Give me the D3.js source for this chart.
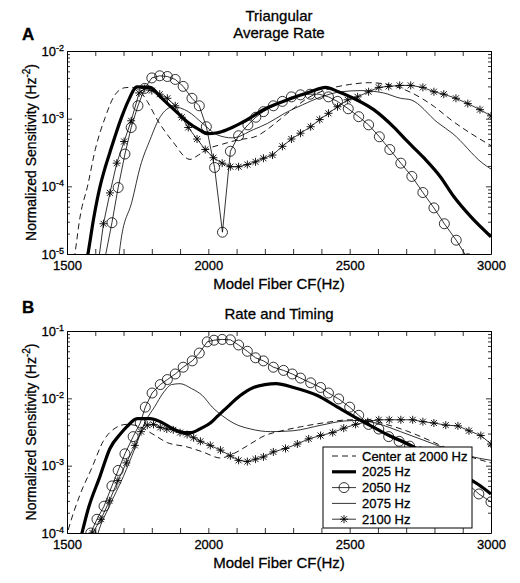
<!DOCTYPE html>
<html><head><meta charset="utf-8">
<script src="https://cdn.jsdelivr.net/npm/d3@7/dist/d3.min.js"></script>
<style>
body{margin:0;background:#fff}
text{font-family:"Liberation Sans",Arial,Helvetica,sans-serif;fill:#000;stroke:#000;stroke-width:0.3px}
</style>
</head><body>
<svg id="chart" width="520" height="583"></svg>
<script>
// ---------- DATA ----------
const seriesNames = ["Center at 2000 Hz", "2025 Hz", "2050 Hz", "2075 Hz", "2100 Hz"];
const xTickValues = [1500,1600,1700,1800,1900,2000,2100,2200,2300,2400,2500,2600,2700,2800,2900,3000];
const xTickLabels = [1500, 2000, 2500, 3000];
const panelLetters = ["A", "B"];
const panelTitlesA = ["Triangular", "Average Rate"];
const panelTitlesB = ["Rate and Timing"];
const xAxisTitle = "Model Fiber CF(Hz)";
const yAxisTitle = "Normalized Sensitivity (Hz";
const yDomainA = [1e-5, 1e-2];
const yDomainB = [1e-4, 1e-1];

// Panel A (Triangular, average rate): [CF Hz, sensitivity]
const aCenter2000 = [[1520,6e-6],[1528,1e-5],[1546,3.5e-5],[1574,1.06e-4],[1600,3.5e-4],[1635,1.04e-3],[1670,2.26e-3],[1706,2.87e-3],[1730,2.9e-3],[1760,2.5e-3],[1784,1.8e-3],[1819,9.7e-4],[1855,5.8e-4],[1883,4.1e-4],[1910,2.9e-4],[1935,2.5e-4],[1965,2.9e-4],[2000,3.6e-4],[2050,4.2e-4],[2100,4.8e-4],[2170,5.5e-4],[2210,7e-4],[2250,9.5e-4],[2300,1.4e-3],[2350,2.0e-3],[2420,2.7e-3],[2500,3.2e-3],[2570,3.4e-3],[2650,3.1e-3],[2720,2.4e-3],[2800,1.5e-3],[2860,9.5e-4],[2930,6e-4],[3000,4e-4]];
const a2025 = [[1560,5e-6],[1574,1e-5],[1595,3.5e-5],[1617,1e-4],[1635,1.9e-4],[1652,3.2e-4],[1673,6e-4],[1694,1.07e-3],[1716,1.8e-3],[1748,2.95e-3],[1794,2.9e-3],[1830,2.1e-3],[1860,1.6e-3],[1890,1.23e-3],[1925,9e-4],[1972,6.7e-4],[1995,6e-4],[2032,6.2e-4],[2067,6.9e-4],[2124,9e-4],[2209,1.45e-3],[2280,1.9e-3],[2362,2.5e-3],[2415,2.9e-3],[2460,2.5e-3],[2503,2.1e-3],[2585,1.36e-3],[2656,7.5e-4],[2700,4.8e-4],[2762,2.65e-4],[2820,1.4e-4],[2869,7e-5],[2930,3.5e-5],[3000,1.8e-5]];
const a2050 = [[1630,7e-6],[1659,2.9e-5],[1681,9.6e-5],[1705,3.0e-4],[1727,7.4e-4],[1751,1.55e-3],[1775,2.8e-3],[1800,4.0e-3],[1828,4.3e-3],[1855,4.2e-3],[1883,3.8e-3],[1911,3.0e-3],[1942,2.0e-3],[1968,1.55e-3],[1993,7.6e-4],[2022,1.9e-4],[2050,2.1e-5],[2078,3.3e-4],[2107,5.6e-4],[2140,8.1e-4],[2168,1.05e-3],[2195,1.27e-3],[2230,1.55e-3],[2262,1.8e-3],[2294,2.1e-3],[2326,2.25e-3],[2360,2.3e-3],[2392,2.3e-3],[2425,2.1e-3],[2457,1.8e-3],[2495,1.4e-3],[2532,1.07e-3],[2567,8.1e-4],[2605,5.4e-4],[2642,3.5e-4],[2681,2.2e-4],[2720,1.4e-4],[2759,8.1e-5],[2798,4.8e-5],[2835,2.8e-5],[2877,1.6e-5],[2918,8.5e-6]];
const a2075 = [[1680,7e-6],[1691,1.6e-5],[1730,6e-5],[1759,1.95e-4],[1794,4.9e-4],[1830,1.07e-3],[1876,1.5e-3],[1929,1.27e-3],[1980,8.5e-4],[2030,5.8e-4],[2085,5.2e-4],[2160,6.9e-4],[2209,8.5e-4],[2270,1.2e-3],[2333,1.6e-3],[2400,2.1e-3],[2470,2.5e-3],[2540,2.6e-3],[2620,2.4e-3],[2680,2.0e-3],[2716,1.9e-3],[2812,8.7e-4],[2865,6e-4],[2970,2.2e-4],[3000,1.8e-4]];
const a2100 = [[1610,7e-6],[1629,2.8e-5],[1652,8e-5],[1676,2.2e-4],[1702,4.6e-4],[1727,9.3e-4],[1755,2.4e-3],[1775,2.8e-3],[1800,2.6e-3],[1828,2.3e-3],[1855,2.0e-3],[1883,1.55e-3],[1906,1.05e-3],[1929,7.4e-4],[1960,5.0e-4],[1989,3.5e-4],[2018,2.65e-4],[2049,2.2e-4],[2078,1.95e-4],[2107,1.95e-4],[2138,2.1e-4],[2167,2.3e-4],[2195,2.6e-4],[2227,2.9e-4],[2262,3.9e-4],[2294,5e-4],[2326,6.1e-4],[2362,7.6e-4],[2394,9.7e-4],[2425,1.2e-3],[2457,1.5e-3],[2493,1.9e-3],[2528,2.1e-3],[2567,2.5e-3],[2603,2.9e-3],[2638,3.0e-3],[2677,3.1e-3],[2716,3.1e-3],[2759,2.9e-3],[2798,2.5e-3],[2833,2.3e-3],[2876,2.0e-3],[2918,1.67e-3],[2961,1.36e-3],[3000,1.1e-3]];

// Panel B (Rate and timing)
const bCenter2000 = [[1495,8e-5],[1504,1.1e-4],[1546,3.7e-4],[1589,9.5e-4],[1628,2.3e-3],[1670,3.6e-3],[1710,4.1e-3],[1750,3.9e-3],[1800,3.0e-3],[1855,2.2e-3],[1925,1.9e-3],[1980,1.6e-3],[2043,1.3e-3],[2088,1.5e-3],[2140,2.0e-3],[2200,2.8e-3],[2260,3.3e-3],[2330,3.8e-3],[2420,4.4e-3],[2500,4.8e-3],[2560,4.8e-3],[2620,4.2e-3],[2700,3.3e-3],[2780,2.4e-3],[2860,1.7e-3],[2940,1.3e-3],[3000,1.1e-3]];
const b2025 = [[1540,6e-5],[1553,1e-4],[1574,2.2e-4],[1617,7e-4],[1652,1.8e-3],[1690,3.0e-3],[1712,3.8e-3],[1748,5e-3],[1794,5e-3],[1830,4.5e-3],[1876,3.5e-3],[1915,3.1e-3],[1940,3.1e-3],[1975,3.6e-3],[2007,4.3e-3],[2030,5.3e-3],[2067,7.4e-3],[2113,1.1e-2],[2160,1.45e-2],[2200,1.6e-2],[2240,1.65e-2],[2301,1.45e-2],[2386,1.1e-2],[2457,7.4e-3],[2528,5e-3],[2585,3.7e-3],[2640,2.8e-3],[2706,2.1e-3],[2780,1.4e-3],[2850,9e-4],[2920,6.5e-4],[2954,5.3e-4],[3000,3.8e-4]];
const b2050 = [[1560,6e-5],[1584,1e-4],[1606,1.6e-4],[1631,2.5e-4],[1659,5e-4],[1681,8.5e-4],[1705,1.5e-3],[1734,2.7e-3],[1759,4.3e-3],[1777,7.4e-3],[1801,1.2e-2],[1830,1.6e-2],[1855,1.9e-2],[1883,2.3e-2],[1911,2.9e-2],[1943,3.6e-2],[1968,4.7e-2],[1996,6.9e-2],[2020,7.3e-2],[2049,7.5e-2],[2078,7.4e-2],[2107,6.2e-2],[2138,5.0e-2],[2167,4.0e-2],[2195,3.6e-2],[2230,2.9e-2],[2266,2.6e-2],[2297,2.3e-2],[2326,2.0e-2],[2362,1.7e-2],[2397,1.45e-2],[2425,1.2e-2],[2461,9.8e-3],[2500,7.4e-3],[2532,5.6e-3],[2567,4.1e-3],[2603,3.5e-3],[2638,2.7e-3],[2675,2.3e-3],[2712,1.95e-3],[2750,1.6e-3],[2790,1.3e-3],[2830,1.05e-3],[2870,8e-4],[2915,5.5e-4],[2957,3.8e-4],[3000,2.9e-4]];
const b2075 = [[1600,7e-5],[1610,1e-4],[1650,2.5e-4],[1700,7e-4],[1740,1.8e-3],[1777,4.5e-3],[1810,7.5e-3],[1840,1.2e-2],[1870,1.6e-2],[1900,1.65e-2],[1940,1.4e-2],[1979,1.1e-2],[2014,7.4e-3],[2050,5.5e-3],[2088,4.3e-3],[2150,3.5e-3],[2220,3.2e-3],[2300,3.3e-3],[2400,4.0e-3],[2480,4.6e-3],[2540,4.7e-3],[2600,4.2e-3],[2680,3.2e-3],[2760,2.4e-3],[2840,1.8e-3],[2920,1.4e-3],[3000,1.2e-3]];
const b2100 = [[1570,6e-5],[1590,1e-4],[1620,1.6e-4],[1650,3e-4],[1680,6e-4],[1710,1.1e-3],[1740,2e-3],[1762,3.2e-3],[1784,4.0e-3],[1806,4.1e-3],[1830,3.7e-3],[1853,3.5e-3],[1876,3.4e-3],[1900,3.1e-3],[1925,2.9e-3],[1948,2.6e-3],[1972,2.3e-3],[2007,2.0e-3],[2043,1.7e-3],[2078,1.4e-3],[2107,1.2e-3],[2138,1.15e-3],[2167,1.25e-3],[2195,1.35e-3],[2230,1.6e-3],[2273,1.8e-3],[2315,2.1e-3],[2355,2.5e-3],[2397,2.8e-3],[2440,3.1e-3],[2479,3.6e-3],[2521,4.1e-3],[2564,4.5e-3],[2603,4.8e-3],[2640,4.8e-3],[2681,4.8e-3],[2723,4.8e-3],[2759,4.5e-3],[2798,4.3e-3],[2840,4.0e-3],[2883,3.9e-3],[2922,3.3e-3],[2964,2.8e-3],[3000,2.1e-3]];

// ---------- STYLES ----------
const styles = [
  {width:0.9, dash:"6,4", marker:null, curve:true},
  {width:3.2, dash:null, marker:null, curve:true},
  {width:0.8, dash:null, marker:"circle", curve:false},
  {width:0.8, dash:null, marker:null, curve:true},
  {width:0.8, dash:null, marker:"star", curve:false}
];
const starPath = "M-4,0H4M0,-4V4M-3,-3L3,3M-3,3L3,-3";

const svg = d3.select("#chart");
const L = 67, R = 491;
const x = d3.scaleLinear().domain([1500, 3000]).range([L, R]);

function drawPanel(id, top, bottom, yDom, seriesList, legend) {
  const y = d3.scaleLog().domain(yDom).range([bottom, top]);
  const g = svg.append("g");
  g.append("clipPath").attr("id", "clip" + id)
    .append("rect").attr("x", L).attr("y", top).attr("width", R - L).attr("height", bottom - top);
  const plot = g.append("g").attr("clip-path", `url(#clip${id})`);

  seriesList.forEach((data, i) => {
    const st = styles[i];
    const line = d3.line().x(d => x(d[0])).y(d => y(d[1]))
      .curve(st.curve ? d3.curveMonotoneX : d3.curveLinear);
    plot.append("path").datum(data).attr("d", line)
      .attr("fill", "none").attr("stroke", "#000")
      .attr("stroke-width", st.width)
      .attr("stroke-dasharray", st.dash)
      .attr("stroke-linejoin", "round");
    if (st.marker === "circle") {
      plot.selectAll(null).data(data).enter().append("circle")
        .attr("cx", d => x(d[0])).attr("cy", d => y(d[1])).attr("r", 5)
        .attr("fill", "none").attr("stroke", "#000").attr("stroke-width", 0.8);
    } else if (st.marker === "star") {
      plot.selectAll(null).data(data).enter().append("path")
        .attr("d", starPath)
        .attr("transform", d => `translate(${x(d[0])},${y(d[1])})`)
        .attr("fill", "none").attr("stroke", "#000").attr("stroke-width", 0.9);
    }
  });

  // axes
  const decades = [];
  for (let e = Math.round(Math.log10(yDom[0])); e <= Math.round(Math.log10(yDom[1])); e++) decades.push(Math.pow(10, e));
  const minors = [];
  decades.slice(0, -1).forEach(d => { for (let k = 2; k <= 9; k++) minors.push(d * k); });

  const ax = g.append("g").attr("class", "axes");
  ax.append("g").attr("transform", `translate(0,${bottom})`)
    .call(d3.axisBottom(x).tickValues(xTickValues).tickSize(-5).tickSizeOuter(0).tickPadding(7)
      .tickFormat(d => xTickLabels.includes(d) ? d : ""));
  ax.append("g").attr("transform", `translate(0,${top})`)
    .call(d3.axisTop(x).tickValues(xTickValues).tickSize(-5).tickSizeOuter(0).tickFormat(""));
  const left = ax.append("g").attr("transform", `translate(${L},0)`)
    .call(d3.axisLeft(y).tickValues(decades).tickSize(-5).tickSizeOuter(0).tickPadding(3).tickFormat(d => d));
  ax.append("g").attr("transform", `translate(${L},0)`)
    .call(d3.axisLeft(y).tickValues(minors).tickSize(-3).tickSizeOuter(0).tickFormat(""))
    .select(".domain").remove();
  ax.append("g").attr("transform", `translate(${R},0)`)
    .call(d3.axisRight(y).tickValues(decades).tickSize(-5).tickSizeOuter(0).tickFormat(""));
  ax.append("g").attr("transform", `translate(${R},0)`)
    .call(d3.axisRight(y).tickValues(minors).tickSize(-3).tickSizeOuter(0).tickFormat(""))
    .select(".domain").remove();

  ax.selectAll(".domain").attr("stroke", "#000").attr("stroke-width", 1);
  ax.selectAll(".tick line").attr("stroke", "#000").attr("stroke-width", 0.8);
  ax.selectAll("text").attr("font-size", 13).attr("font-family", '"Liberation Sans",Arial,sans-serif').attr("fill", "#000");

  left.selectAll(".tick text").each(function(d) {
    const t = d3.select(this);
    const e = Math.round(Math.log10(d));
    t.text(null);
    t.append("tspan").text("10");
    t.append("tspan").attr("font-size", 9).attr("dy", -5).text(String(e));
  });

  // x axis title
  g.append("text").attr("x", (L + R) / 2).attr("y", bottom + 35).attr("text-anchor", "middle")
    .attr("font-size", 15).text(xAxisTitle);
  // y axis title
  const yt = g.append("text").attr("transform", `translate(36,${(top + bottom) / 2}) rotate(-90)`)
    .attr("text-anchor", "middle").attr("font-size", 14);
  yt.append("tspan").text(yAxisTitle);
  yt.append("tspan").attr("font-size", 10).attr("dy", -6).text("-2");
  yt.append("tspan").attr("dy", 6).text(")");

  if (legend) {
    const lg = g.append("g");
    const bx = 323, by = 447, bw = 149, bh = 81;
    lg.append("rect").attr("x", bx).attr("y", by).attr("width", bw).attr("height", bh)
      .attr("fill", "#fff").attr("stroke", "#000").attr("stroke-width", 1);
    seriesNames.forEach((name, i) => {
      const st = styles[i];
      const cy = by + 9 + i * 15.8;
      lg.append("line").attr("x1", bx + 9).attr("x2", bx + 33).attr("y1", cy).attr("y2", cy)
        .attr("stroke", "#000").attr("stroke-width", st.width).attr("stroke-dasharray", st.dash);
      if (st.marker === "circle") {
        lg.append("circle").attr("cx", bx + 21).attr("cy", cy).attr("r", 5)
          .attr("fill", "none").attr("stroke", "#000").attr("stroke-width", 0.8);
      } else if (st.marker === "star") {
        lg.append("path").attr("d", starPath).attr("transform", `translate(${bx + 21},${cy})`)
          .attr("fill", "none").attr("stroke", "#000").attr("stroke-width", 0.9);
      }
      lg.append("text").attr("x", bx + 39).attr("y", cy + 4.5).attr("font-size", 13).text(name);
    });
  }
  return g;
}

drawPanel("A", 51, 254, yDomainA, [aCenter2000, a2025, a2050, a2075, a2100], false);
drawPanel("B", 331, 533, yDomainB, [bCenter2000, b2025, b2050, b2075, b2100], true);

// Panel letters & titles
svg.append("text").attr("x", 22).attr("y", 40).attr("font-size", 17).attr("font-weight", "bold").text(panelLetters[0]);
svg.append("text").attr("x", 22).attr("y", 313).attr("font-size", 17).attr("font-weight", "bold").text(panelLetters[1]);
svg.append("text").attr("x", (L + R) / 2).attr("y", 21).attr("text-anchor", "middle").attr("font-size", 15).text(panelTitlesA[0]);
svg.append("text").attr("x", (L + R) / 2).attr("y", 38).attr("text-anchor", "middle").attr("font-size", 15).text(panelTitlesA[1]);
svg.append("text").attr("x", (L + R) / 2).attr("y", 319).attr("text-anchor", "middle").attr("font-size", 15).text(panelTitlesB[0]);
</script>
</body></html>
